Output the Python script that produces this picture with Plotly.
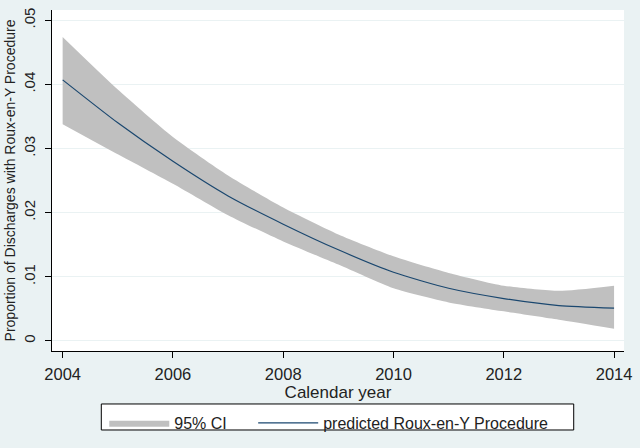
import plotly.graph_objects as go

years = [2004, 2005, 2006, 2007, 2008, 2009, 2010, 2011, 2012, 2013, 2014]
predicted = [0.0407, 0.0340, 0.0280, 0.0226, 0.0182, 0.0142, 0.0107, 0.0082, 0.0066, 0.0055, 0.0051]
ci_upper = [0.0474, 0.0392, 0.0318, 0.0258, 0.0208, 0.0166, 0.0132, 0.0106, 0.0086, 0.0078, 0.0086]
ci_lower = [0.0338, 0.0291, 0.0245, 0.0196, 0.0155, 0.0119, 0.0082, 0.0060, 0.0046, 0.0033, 0.0019]

y_ticks = [0, 0.01, 0.02, 0.03, 0.04, 0.05]
y_ticklabels = ["0", ".01", ".02", ".03", ".04", ".05"]
x_ticks = [2004, 2006, 2008, 2010, 2012, 2014]

FONT = "Liberation Sans, Arial, sans-serif"
BG = "#eaf2f3"
W, H = 640, 448
ML, MR, MT, MB = 52, 8, 10, 84
PW, PH = W - ML - MR, H - MT - MB


def px_x(p):
    return (p - ML) / PW


def px_y(p):
    return (H - MB - p) / PH


fig = go.Figure()
fig.add_trace(go.Scatter(x=years, y=ci_upper, mode="lines", line=dict(width=0, shape="spline", smoothing=0.6),
                         showlegend=False, hoverinfo="skip"))
fig.add_trace(go.Scatter(x=years, y=ci_lower, mode="lines", fill="tonexty", fillcolor="#c0c0c0",
                         line=dict(width=0, shape="spline", smoothing=0.6), name="95% CI",
                         legend="legend"))
fig.add_trace(go.Scatter(x=years, y=predicted, mode="lines",
                         line=dict(color="#1a476f", width=1.2, shape="spline", smoothing=0.6),
                         name="predicted Roux-en-Y Procedure", legend="legend2"))

leg_common = dict(orientation="h", yanchor="top", xanchor="left", bgcolor="rgba(0,0,0,0)",
                  borderwidth=0, font=dict(size=16, color="#222"), itemwidth=60)

fig.update_layout(
    width=W, height=H,
    margin=dict(l=ML, r=MR, t=MT, b=MB),
    paper_bgcolor=BG, plot_bgcolor="white",
    font=dict(family=FONT, size=15, color="#222"),
    legend=dict(x=px_x(105), y=px_y(421), **leg_common),
    legend2=dict(x=px_x(256), y=px_y(421), **leg_common),
    shapes=[dict(type="rect", xref="paper", yref="paper",
                 x0=px_x(102), x1=px_x(581), y0=px_y(446), y1=px_y(419),
                 line=dict(color="black", width=1), fillcolor="white", layer="below")],
)
fig.update_xaxes(range=[2003.807, 2014.18], tickvals=x_ticks, ticks="outside", ticklen=6,
                 tickcolor="black", showline=True, linecolor="black", linewidth=1,
                 showgrid=False, zeroline=False, tickfont=dict(size=16.5), ticklabelstandoff=2,
                 ticklabeloverflow="allow",
                 title=dict(text="Calendar year", font=dict(size=17), standoff=0))
fig.update_yaxes(range=[-0.00158, 0.0516], tickvals=y_ticks, ticktext=y_ticklabels,
                 tickangle=-90, ticks="outside", ticklen=6, tickcolor="black",
                 showline=True, linecolor="black", linewidth=1,
                 showgrid=True, gridcolor=BG, gridwidth=1, zeroline=False,
                 tickfont=dict(size=15), ticklabelstandoff=4, ticklabeloverflow="allow",
                 title=dict(text="Proportion of Discharges with Roux-en-Y Procedure",
                            font=dict(size=14), standoff=2))

page_fix = (
    "var s=document.documentElement.style, b=document.body.style;"
    "s.margin='0';s.padding='0';s.overflow='hidden';s.background='" + BG + "';"
    "b.margin='0';b.padding='0';b.overflow='hidden';b.background='" + BG + "';"
    "var d=document.getElementById('{plot_id}');"
    "var sx=window.innerWidth/" + str(W) + ", sy=window.innerHeight/" + str(H) + ";"
    "if(sx>0&&sy>0&&(Math.abs(sx-1)>0.005||Math.abs(sy-1)>0.005)){"
    "d.style.transformOrigin='0 0';d.style.transform='scale('+sx+','+sy+')';}"
)

fig.write_html("out.html", config={"displayModeBar": False, "responsive": False},
               post_script=page_fix)
